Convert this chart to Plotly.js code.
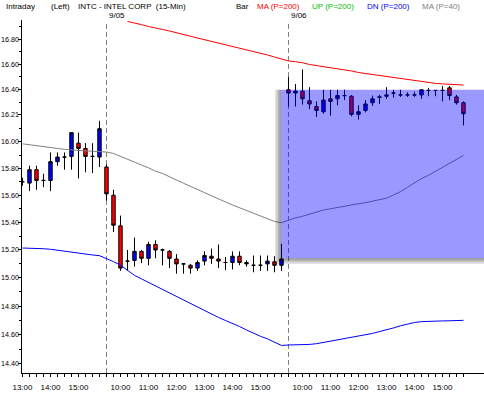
<!DOCTYPE html>
<html>
<head>
<meta charset="utf-8">
<script src="https://cdn.plot.ly/plotly-3.0.1.min.js"></script>
<style>
  html, body { margin: 0; padding: 0; background: #ffffff; }
  #chart { width: 484px; height: 396px; }
</style>
</head>
<body>
<div id="chart"></div>
<script>
// ---------------- DATA ----------------
const sessionDates = ['9/04', '9/05', '9/06'];
const firstSessionTimes = ['13:00','13:15','13:30','13:45','14:00','14:15','14:30','14:45','15:00','15:15','15:30','15:45'];
const fullSessionTimes = ['09:30','09:45','10:00','10:15','10:30','10:45','11:00','11:15','11:30','11:45',
  '12:00','12:15','12:30','12:45','13:00','13:15','13:30','13:45','14:00','14:15','14:30','14:45',
  '15:00','15:15','15:30','15:45'];
const sessionTimes = [firstSessionTimes, fullSessionTimes, fullSessionTimes];

const openP = [
  15.70, 15.69, 15.79, 15.71, 15.71, 15.85, 15.885, 15.89, 15.99, 15.95, 15.89, 15.885,
  15.81, 15.60, 15.375, 15.12, 15.125, 15.19, 15.14, 15.24, 15.20, 15.19, 15.135, 15.10, 15.09, 15.07,
  15.12, 15.155, 15.135, 15.11, 15.11, 15.155, 15.11, 15.09, 15.09, 15.10, 15.115, 15.09,
  16.40, 16.375, 16.39, 16.315, 16.27, 16.23, 16.33, 16.33, 16.355, 16.35, 16.21, 16.24, 16.30,
  16.34, 16.35, 16.375, 16.36, 16.36, 16.36, 16.36, 16.395, 16.395, 16.395, 16.415, 16.345, 16.30
];
const highP = [
  15.73, 15.82, 15.82, 15.76, 15.92, 15.92, 15.92, 16.07, 16.07, 15.99, 15.99, 16.16,
  15.83, 15.64, 15.45, 15.20, 15.29, 15.20, 15.26, 15.27, 15.21, 15.20, 15.17, 15.10, 15.10, 15.125,
  15.19, 15.21, 15.24, 15.15, 15.19, 15.19, 15.125, 15.16, 15.16, 15.16, 15.155, 15.245,
  16.50, 16.445, 16.56, 16.42, 16.31, 16.40, 16.40, 16.40, 16.40, 16.36, 16.28, 16.32, 16.355,
  16.36, 16.42, 16.40, 16.40, 16.38, 16.385, 16.40, 16.415, 16.395, 16.43, 16.43, 16.36, 16.31
];
const lowP = [
  15.67, 15.63, 15.64, 15.66, 15.63, 15.82, 15.79, 15.79, 15.725, 15.77, 15.765, 15.81,
  15.56, 15.33, 15.05, 15.05, 15.08, 15.105, 15.09, 15.14, 15.09, 15.07, 15.03, 15.03, 15.03, 15.05,
  15.09, 15.10, 15.07, 15.055, 15.06, 15.09, 15.08, 15.04, 15.05, 15.05, 15.04, 15.05,
  16.27, 16.27, 16.285, 16.25, 16.19, 16.215, 16.20, 16.28, 16.32, 16.195, 16.17, 16.225, 16.275,
  16.29, 16.33, 16.34, 16.345, 16.345, 16.345, 16.33, 16.35, 16.35, 16.31, 16.32, 16.285, 16.125
];
const closeP = [
  15.70, 15.79, 15.71, 15.71, 15.85, 15.885, 15.885, 16.07, 15.95, 15.89, 15.89, 16.10,
  15.61, 15.38, 15.07, 15.12, 15.19, 15.14, 15.24, 15.20, 15.20, 15.14, 15.10, 15.10, 15.07, 15.11,
  15.16, 15.14, 15.12, 15.11, 15.155, 15.11, 15.10, 15.09, 15.09, 15.12, 15.09, 15.135,
  16.375, 16.39, 16.33, 16.29, 16.24, 16.32, 16.31, 16.355, 16.355, 16.21, 16.23, 16.29, 16.33,
  16.345, 16.36, 16.375, 16.36, 16.36, 16.36, 16.40, 16.395, 16.395, 16.395, 16.355, 16.30, 16.215
];

// MA (P=200) - red; starts above the visible range
const maLong = [
  null, null, null, null, null, null, null, null, null, null, null, null,
  null, null, null, 16.94, 16.93, 16.915, 16.90, 16.885, 16.876, 16.864, 16.848, 16.835, 16.822, 16.808,
  16.795, 16.782, 16.768, 16.755, 16.742, 16.728, 16.715, 16.702, 16.689, 16.673, 16.657, 16.642,
  16.626, 16.62, 16.612, 16.598, 16.59, 16.581, 16.572, 16.566, 16.558, 16.547, 16.535, 16.527, 16.52,
  16.515, 16.507, 16.499, 16.491, 16.48, 16.472, 16.464, 16.458, 16.45, 16.446, 16.444, 16.442, 16.437
];
// MA (P=40) - gray
const maShort = [
  15.985, 15.979, 15.971, 15.962, 15.956, 15.950, 15.943, 15.938, 15.934, 15.931, 15.929, 15.927,
  15.923, 15.912, 15.889, 15.867, 15.846, 15.825, 15.804, 15.779, 15.762, 15.740, 15.713, 15.689, 15.665, 15.641,
  15.617, 15.593, 15.571, 15.550, 15.528, 15.507, 15.487, 15.469, 15.447, 15.422, 15.407, 15.398,
  15.418, 15.433, 15.445, 15.462, 15.478, 15.491, 15.500, 15.510, 15.522, 15.530, 15.537, 15.545, 15.555,
  15.565, 15.578, 15.602, 15.626, 15.659, 15.691, 15.724, 15.748, 15.778, 15.812, 15.842, 15.871, 15.897
];
// DN (P=200) - blue
const dnBand = [
  15.214, 15.214, 15.212, 15.209, 15.205, 15.198, 15.190, 15.182, 15.173, 15.169, 15.164, 15.159,
  15.140, 15.116, 15.091, 15.053, 15.018, 14.993, 14.968, 14.943, 14.918, 14.893, 14.865, 14.842, 14.817, 14.792,
  14.770, 14.745, 14.721, 14.700, 14.681, 14.658, 14.634, 14.611, 14.590, 14.572, 14.551, 14.527,
  14.530, 14.530, 14.530, 14.534, 14.539, 14.548, 14.556, 14.565, 14.572, 14.579, 14.589, 14.600, 14.610,
  14.623, 14.634, 14.648, 14.663, 14.675, 14.686, 14.692, 14.695, 14.696, 14.697, 14.698, 14.699, 14.701
];

const yTickVals = [16.80, 16.60, 16.40, 16.21, 16.00, 15.80, 15.60, 15.40, 15.20, 15.00, 14.80, 14.60, 14.40];
const yTickText = ['16.80', '16.60', '16.40', '16.21', '16.00', '15.80', '15.60', '15.40', '15.20', '15.00', '14.80', '14.60', '14.40'];
const yMinorVals = [16.90, 16.70, 16.50, 16.30, 16.10, 15.90, 15.70, 15.50, 15.30, 15.10, 14.90, 14.70, 14.50];

const headerItems = [
  {text: 'Intraday', color: '#000000', px: 4},
  {text: '(Left)', color: '#000000', px: 49},
  {text: 'INTC - INTEL CORP  (15-Min)', color: '#000000', px: 76},
  {text: 'Bar', color: '#000000', px: 234},
  {text: 'MA (P=200)', color: '#ff0000', px: 255},
  {text: 'UP (P=200)', color: '#00c000', px: 310},
  {text: 'DN (P=200)', color: '#0000ff', px: 365},
  {text: 'MA (P=40)', color: '#808080', px: 420}
];

// ---------------- BUILD ----------------
const times = [];
const dates = [];
sessionTimes.forEach((arr, s) => arr.forEach(t => { times.push(t); dates.push(sessionDates[s]); }));
const xIdx = times.map((_, i) => i);
const tickText = times.map(t => t.endsWith(':00') ? t.replace(/^0/, '') : '');
const separators = [];
for (let i = 1; i < dates.length; i++) if (dates[i] !== dates[i - 1]) separators.push({i: i, label: dates[i]});

const W = 484, H = 396;
const margin = {l: 22, r: 0, t: 20, b: 23};
const xRange = [-0.07, 65.93];
const yRange = [1.156497, 1.229223];
const plotW = W - margin.l - margin.r, plotH = H - margin.t - margin.b;
const pxPerIdx = plotW / (xRange[1] - xRange[0]);
const pxPerDec = plotH / (yRange[1] - yRange[0]);
const down = (p, k) => p * Math.pow(10, -k / pxPerDec);

const FONT = 'Liberation Sans, Arial, sans-serif';

const traces = [
  {type: 'scatter', mode: 'lines', x: xIdx, y: maShort, line: {color: '#808080', width: 1}, hoverinfo: 'skip'},
  {type: 'scatter', mode: 'lines', x: xIdx, y: dnBand, line: {color: '#0000ff', width: 1}, hoverinfo: 'skip'},
  {type: 'scatter', mode: 'lines', x: xIdx, y: maLong, line: {color: '#ff0000', width: 1}, hoverinfo: 'skip', connectgaps: false},
  {
    type: 'candlestick', x: xIdx, open: openP, high: highP, low: lowP, close: closeP,
    increasing: {fillcolor: '#0000ff', line: {color: '#000000', width: 1}},
    decreasing: {fillcolor: '#ff0000', line: {color: '#000000', width: 1}},
    whiskerwidth: 0, hoverinfo: 'skip'
  }
];

const shapes = [];
separators.forEach(s => shapes.push({
  type: 'line', xref: 'x', yref: 'paper', x0: s.i, x1: s.i, y0: 0, y1: 1 - 2 / plotH,
  line: {color: '#808080', width: 1, dash: '5px,3px'}, layer: 'below'
}));

// highlight box with soft shadow
const box = {x0: 36.93, x1: 70, yBottom: 15.142, yTop: 16.40};
[6, 4.5, 3, 1.5].forEach(k => {
  shapes.push({type: 'rect', xref: 'x', yref: 'y', x0: box.x0 - k / pxPerIdx, x1: box.x0,
    y0: down(box.yBottom, k), y1: box.yTop, fillcolor: 'rgba(0,0,0,0.11)', line: {width: 0}, layer: 'above'});
  shapes.push({type: 'rect', xref: 'x', yref: 'y', x0: box.x0, x1: box.x1,
    y0: down(box.yBottom, k), y1: box.yBottom, fillcolor: 'rgba(0,0,0,0.11)', line: {width: 0}, layer: 'above'});
});
shapes.push({type: 'rect', xref: 'x', yref: 'y', x0: box.x0, x1: box.x1, y0: box.yBottom, y1: box.yTop,
  fillcolor: 'rgba(0,0,255,0.4)', line: {width: 0}, layer: 'above'});

const annotations = [];
headerItems.forEach(h => annotations.push({
  xref: 'paper', yref: 'paper', x: 0, y: 1, xanchor: 'left', yanchor: 'middle',
  xshift: h.px - margin.l, yshift: margin.t - 6, text: h.text, showarrow: false,
  font: {family: FONT, size: 8, color: h.color}
}));
separators.forEach(s => annotations.push({
  xref: 'x', yref: 'paper', x: s.i, y: 1, xanchor: 'left', yanchor: 'middle',
  xshift: 1, yshift: margin.t - 15, text: s.label, showarrow: false,
  font: {family: FONT, size: 8, color: '#000000'}
}));
// y tick labels placed tight against the axis (log axis -> annotation y in log10 units)
yTickVals.forEach((v, i) => annotations.push({
  xref: 'paper', yref: 'y', x: 0, y: Math.log10(v), xanchor: 'right', yanchor: 'middle',
  xshift: -2, text: yTickText[i], showarrow: false, borderpad: 0,
  font: {family: FONT, size: 7.2, color: '#000000'}
}));

const layout = {
  width: W, height: H, margin: Object.assign({pad: 0}, margin),
  paper_bgcolor: '#ffffff', plot_bgcolor: '#ffffff',
  showlegend: false, hovermode: false,
  font: {family: FONT, size: 8, color: '#000000'},
  xaxis: {
    range: xRange, showgrid: false, zeroline: false, showline: true, linecolor: '#000000', linewidth: 1,
    ticks: 'outside', ticklen: 3, tickcolor: '#000000', tickmode: 'array', tickvals: xIdx, ticktext: tickText,
    tickfont: {family: FONT, size: 8, color: '#000000'}, rangeslider: {visible: false}, fixedrange: true,
    ticklabelstandoff: 3
  },
  yaxis: {
    type: 'log', range: yRange, showgrid: false, zeroline: false, showline: true, linecolor: '#000000', linewidth: 1,
    ticks: 'outside', ticklen: 3, tickcolor: '#000000', tickmode: 'array', tickvals: yTickVals,
    showticklabels: false,
    minor: {tickmode: 'array', tickvals: yMinorVals, ticks: 'outside', ticklen: 2, tickcolor: '#000000', showgrid: false},
    fixedrange: true
  },
  shapes: shapes,
  annotations: annotations
};

Plotly.newPlot('chart', traces, layout, {displayModeBar: false, staticPlot: true});
</script>
</body>
</html>
